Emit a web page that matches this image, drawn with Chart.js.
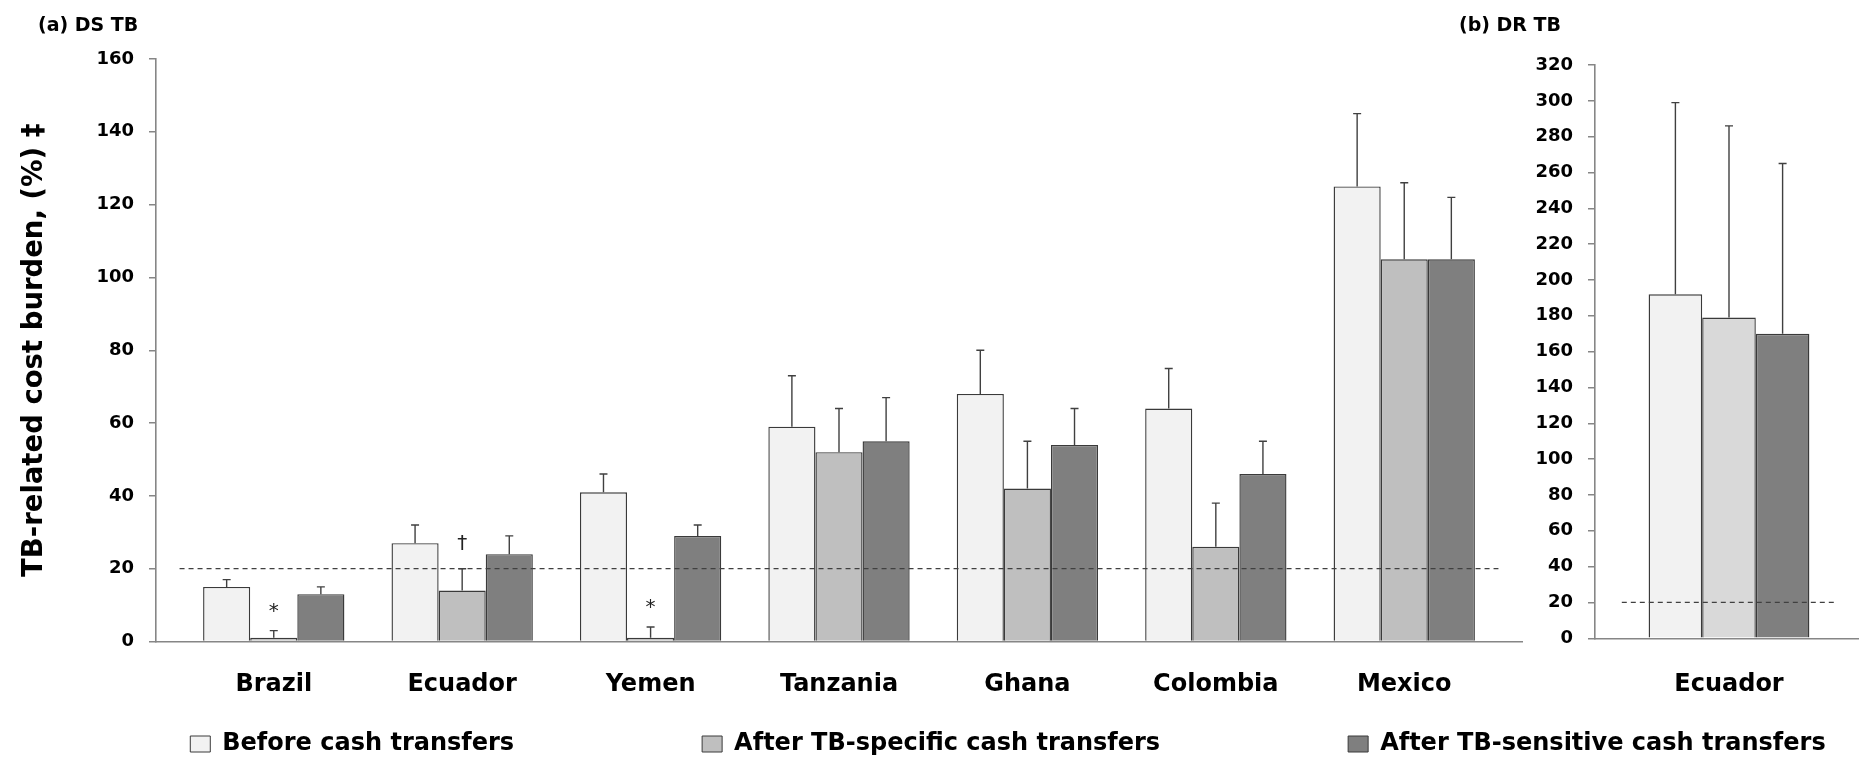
<!DOCTYPE html>
<html>
<head>
<meta charset="utf-8">
<script src="https://cdn.jsdelivr.net/npm/chart.js@4.4.1/dist/chart.umd.min.js"></script>
<style>
  html, body { margin: 0; padding: 0; background: #ffffff; overflow: hidden; width: 1859px; height: 758px; position: relative; }
  canvas { position: absolute; }
</style>
</head>
<body>
<canvas id="dsChart" width="1545" height="720" style="left:0;top:0"></canvas>
<canvas id="drChart" width="423" height="720" style="left:1440px;top:0"></canvas>
<canvas id="legendChart" width="2400" height="480" style="left:-192px;top:544px"></canvas>
<script>
// Series shown in both panels
const seriesNames = ['Before cash transfers', 'After TB-specific cash transfers', 'After TB-sensitive cash transfers'];

// (a) Drug-susceptible TB
const dsCountries = ['Brazil', 'Ecuador', 'Yemen', 'Tanzania', 'Ghana', 'Colombia', 'Mexico'];
const dsBefore    = [15, 27, 41, 59, 68, 64, 125];
const dsSpecific  = [1, 14, 1, 52, 42, 26, 105];
const dsSensitive = [13, 24, 29, 55, 54, 46, 105];
const dsBeforeErr    = [2, 5, 5, 14, 12, 11, 20];
const dsSpecificErr  = [2, 6, 3, 12, 13, 12, 21];
const dsSensitiveErr = [2, 5, 3, 12, 10, 9, 17];
const dsSpecificMarks = ['*', '†', '*', '', '', '', ''];

// (b) Drug-resistant TB
const drCountries = ['Ecuador'];
const drBefore    = [192];
const drSpecific  = [179];
const drSensitive = [170];
const drBeforeErr    = [107];
const drSpecificErr  = [107];
const drSensitiveErr = [95];

// Catastrophic cost threshold (%)
const catastrophicThreshold = 20;

// Value axes
const dsAxisMax = 160;
const drAxisMax = 320;
const axisStep = 20;

const panelTitles = ['(a) DS TB', '(b) DR TB'];
const yAxisTitle = 'TB-related cost burden, (%) ‡';

// ---- styling ----
const FILL_BEFORE = '#f2f2f2';
const FILL_SPECIFIC_DS = '#bfbfbf';
const FILL_SPECIFIC_DR = '#d9d9d9';
const FILL_SENSITIVE = '#7f7f7f';
const BAR_EDGE = '#3a3a3a';
const AXIS_GRAY = '#868686';

Chart.defaults.font.family = "'DejaVu Sans', sans-serif";
Chart.defaults.font.weight = 'bold';
Chart.defaults.color = '#000000';

// Upper error whiskers plus significance marks, placed through the chart scales
const errorBars = {
  id: 'errorBars',
  afterDatasetsDraw(chart) {
    const ctx = chart.ctx;
    const yScale = chart.scales.y;
    chart.data.datasets.forEach((ds, di) => {
      if (!ds.errors) return;
      const meta = chart.getDatasetMeta(di);
      meta.data.forEach((bar, i) => {
        const topPx = yScale.getPixelForValue(ds.data[i].y + ds.errors[i]);
        ctx.save();
        ctx.strokeStyle = '#404040';
        ctx.lineWidth = 1.4;
        ctx.beginPath();
        ctx.moveTo(bar.x, bar.y);
        ctx.lineTo(bar.x, topPx);
        ctx.moveTo(bar.x - 4, topPx);
        ctx.lineTo(bar.x + 4, topPx);
        ctx.stroke();
        const mark = ds.marks ? ds.marks[i] : '';
        if (mark) {
          ctx.font = "normal 20px 'DejaVu Sans', sans-serif";
          ctx.fillStyle = '#222222';
          ctx.textAlign = 'center';
          ctx.textBaseline = 'alphabetic';
          const m = ctx.measureText(mark);
          ctx.fillText(mark, bar.x, topPx - 19 - m.actualBoundingBoxDescent);
        }
        ctx.restore();
      });
    });
  }
};

function points(values) {
  return values.map((v, i) => ({ x: i, y: v }));
}

function barSet(label, values, errors, fill, marks) {
  return {
    type: 'bar', label, data: points(values), errors, marks,
    backgroundColor: fill, borderColor: BAR_EDGE, borderWidth: 1.4, order: 1
  };
}

function thresholdLine(count) {
  return {
    type: 'line', label: 'threshold',
    data: [{ x: -0.5, y: catastrophicThreshold }, { x: count - 0.5, y: catastrophicThreshold }],
    borderColor: '#404040', borderWidth: 1.3, borderDash: [5, 4],
    pointRadius: 0, fill: false, order: 0
  };
}

function panelOptions(cfg) {
  const n = cfg.categories.length;
  const edge = 0.125;
  return {
    responsive: false, animation: false, devicePixelRatio: 1, events: [],
    layout: { padding: { left: cfg.padLeft, right: cfg.padRight, top: 0, bottom: 0 } },
    plugins: {
      legend: { display: false },
      tooltip: { enabled: false },
      title: {
        display: true, text: cfg.title, align: 'start', color: '#000',
        font: { size: 19, weight: 'bold' },
        padding: { top: 15, bottom: cfg.titleGap }
      }
    },
    scales: {
      x: {
        type: 'linear', offset: false,
        min: -0.5 - edge, max: n - 0.5 + edge,
        afterBuildTicks: s => { s.ticks = cfg.categories.map((_, i) => ({ value: i })); },
        afterFit: s => { s.height = cfg.xHeight; },
        ticks: {
          autoSkip: false, maxRotation: 0, minRotation: 0, padding: cfg.labelPad,
          font: { size: 24, weight: 'bold' }, color: '#000',
          callback: v => cfg.categories[v] ?? ''
        },
        grid: { display: true, offset: false, drawOnChartArea: false, drawTicks: false },
        border: { display: true, color: AXIS_GRAY, width: 1.6 }
      },
      y: {
        min: 0, max: cfg.yMax,
        afterFit: s => { s.width = cfg.yWidth; },
        ticks: { stepSize: axisStep, padding: 15, font: { size: 18, weight: 'bold' }, color: '#000' },
        grid: { drawOnChartArea: false, drawTicks: true, tickLength: 7, color: AXIS_GRAY, lineWidth: 1.5 },
        border: { display: true, color: AXIS_GRAY, width: 1.6 },
        title: cfg.yTitle ? {
          display: true, text: cfg.yTitle, color: '#000',
          font: { size: 27.5, weight: 'bold' },
          padding: { top: -20, bottom: 0 }
        } : { display: false }
      }
    }
  };
}

// (a) DS TB panel
new Chart(document.getElementById('dsChart'), {
  type: 'bar',
  data: {
    datasets: [
      barSet(seriesNames[0], dsBefore, dsBeforeErr, FILL_BEFORE),
      barSet(seriesNames[1], dsSpecific, dsSpecificErr, FILL_SPECIFIC_DS, dsSpecificMarks),
      barSet(seriesNames[2], dsSensitive, dsSensitiveErr, FILL_SENSITIVE),
      thresholdLine(dsCountries.length)
    ]
  },
  options: (() => {
    const o = panelOptions({
      categories: dsCountries, title: panelTitles[0], yMax: dsAxisMax, yTitle: yAxisTitle,
      padLeft: 38, padRight: 23, yWidth: 118, xHeight: 78.5, labelPad: 28.7, titleGap: 21.2
    });
    o.datasets = { bar: { categoryPercentage: 0.75, barPercentage: 1 } };
    return o;
  })(),
  plugins: [errorBars]
});

// (b) DR TB panel
new Chart(document.getElementById('drChart'), {
  type: 'bar',
  data: {
    datasets: [
      barSet(seriesNames[0], drBefore, drBeforeErr, FILL_BEFORE),
      barSet(seriesNames[1], drSpecific, drSpecificErr, FILL_SPECIFIC_DR),
      barSet(seriesNames[2], drSensitive, drSensitiveErr, FILL_SENSITIVE),
      thresholdLine(drCountries.length)
    ]
  },
  options: (() => {
    const o = panelOptions({
      categories: drCountries, title: panelTitles[1], yMax: drAxisMax, yTitle: null,
      padLeft: 19, padRight: 0, yWidth: 136, xHeight: 81.7, labelPad: 31.9, titleGap: 27.2
    });
    o.datasets = { bar: { categoryPercentage: 0.6, barPercentage: 1 } };
    return o;
  })(),
  plugins: [errorBars]
});

// Shared legend along the bottom
new Chart(document.getElementById('legendChart'), {
  type: 'bar',
  data: {
    labels: [],
    datasets: seriesNames.map((name, i) => ({
      label: name, data: [],
      backgroundColor: [FILL_BEFORE, FILL_SPECIFIC_DS, FILL_SENSITIVE][i],
      borderColor: BAR_EDGE, borderWidth: 1
    }))
  },
  options: {
    responsive: false, animation: false, devicePixelRatio: 1, events: [],
    scales: { x: { display: false }, y: { display: false } },
    plugins: {
      tooltip: { enabled: false },
      legend: {
        display: true, position: 'top', onClick: null,
        labels: { boxWidth: 20, boxHeight: 16, padding: 188, color: '#000', font: { size: 24, weight: 'bold' } }
      }
    }
  }
});
</script>
</body>
</html>
